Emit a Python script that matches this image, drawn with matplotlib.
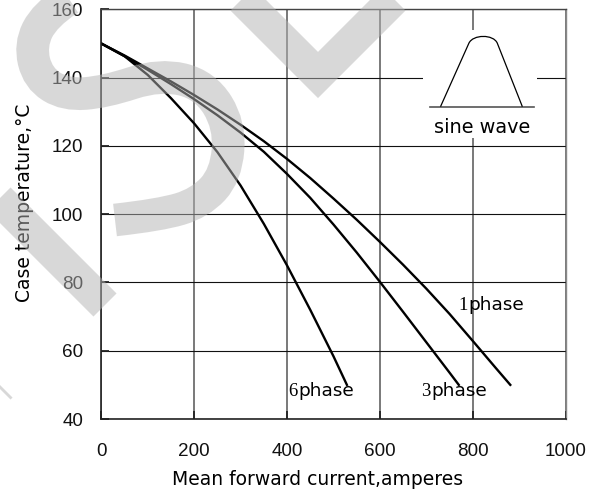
import matplotlib.pyplot as plt
from matplotlib.path import Path
from matplotlib.patches import PathPatch, Rectangle

# Case temperature vs mean forward current
i_1ph = [0, 50, 100, 150, 200, 250, 300, 350, 400, 450, 500, 550, 600, 650, 700, 750, 800, 850, 881]
t_1ph = [150, 146.5, 142.7, 138.9, 134.9, 130.7, 126.2, 121.4, 116.2, 110.6, 104.6, 98.4, 91.9, 85.2, 78.2,
         70.8, 62.9, 54.9, 50]

i_3ph = [0, 50, 100, 150, 200, 250, 300, 350, 400, 450, 500, 550, 600, 650, 700, 750, 770]
t_3ph = [150, 146.3, 142.3, 138.1, 133.7, 129.0, 123.9, 118.3, 111.8, 104.8, 97.0, 88.8, 80.2, 71.4, 62.5,
         53.6, 50]

i_6ph = [0, 50, 100, 150, 200, 250, 300, 350, 400, 450, 500, 529]
t_6ph = [150, 146.3, 140.8, 134.0, 126.6, 118.2, 108.4, 97.2, 85.0, 72.0, 58.4, 50]

curves = [(i_1ph, t_1ph), (i_3ph, t_3ph), (i_6ph, t_6ph)]

# curve labels: number, x, y
label_nums = ["1", "3", "6"]
label_x = [770, 689, 403]
label_y = [72.0, 46.6, 46.6]

x_ticks = [0, 200, 400, 600, 800, 1000]
y_ticks = [40, 60, 80, 100, 120, 140, 160]

fig = plt.figure(figsize=(5.95, 4.93), dpi=100)
ax = fig.add_axes([0.1703, 0.1501, 0.7802, 0.8308])

ax.set_xlim(0, 1000)
ax.set_ylim(40, 160)
ax.set_xticks(x_ticks)
ax.set_yticks(y_ticks)
ax.set_axisbelow(True)
ax.xaxis.grid(True, color='#555555', lw=1.1)
ax.yaxis.grid(True, color='#111111', lw=0.8)

for side, col, lw in [('left', '#222222', 1.2), ('bottom', '#222222', 1.2),
                      ('top', '#444444', 1.0), ('right', '#888888', 1.0)]:
    ax.spines[side].set_color(col)
    ax.spines[side].set_linewidth(lw)

ax.tick_params(direction='in', length=6, width=1.3, color='#222222', labelcolor='#111111')
ax.tick_params(axis='x', pad=17)
ax.tick_params(axis='y', pad=13)
for lab in ax.get_xticklabels() + ax.get_yticklabels():
    lab.set_fontfamily('Liberation Sans')
    lab.set_fontsize(13.6)

for xs, ys in curves:
    ax.plot(xs, ys, color='black', lw=1.7, solid_joinstyle='round', zorder=2)

for num, x, y in zip(label_nums, label_x, label_y):
    ax.text(x, y, num, family='Liberation Serif', fontsize=13.5, ha='left', va='baseline', zorder=3)
    ax.annotate('phase', (x, y), xytext=(7.2, 0), textcoords='offset points',
                family='DejaVu Sans', fontsize=13.3, ha='left', va='baseline', zorder=3)

# sine wave icon
ax.add_patch(Rectangle((694, 122.3), 244, 31.7, fc='white', ec='none', zorder=1.5))
ax.plot([709, 931], [131.5, 131.5], color='#555555', lw=1.2, zorder=2)
hump = Path([(730.6, 131.5), (791.8, 150.1), (800.6, 152.7), (844.6, 152.8), (853, 150.1), (907, 131.5)],
            [Path.MOVETO, Path.LINETO, Path.CURVE4, Path.CURVE4, Path.CURVE4, Path.LINETO])
ax.add_patch(PathPatch(hump, fill=False, ec='black', lw=0.9, zorder=2))
ax.text(820.7, 123.7, 'sine wave', family='DejaVu Sans', fontsize=13.9, ha='center', va='baseline', zorder=3)

fig.text(0.5336, 0.0162, 'Mean forward current,amperes', family='DejaVu Sans', fontsize=13.5,
         ha='center', va='baseline')
fig.text(0.041, 0.588, 'Case temperature,°C', family='DejaVu Sans', fontsize=13.5,
         rotation=90, ha='center', va='center')

# light grey watermark laid over the whole picture (pixel coordinates)
ov = fig.add_axes([0, 0, 1, 1], zorder=10)
ov.set_xlim(0, 595)
ov.set_ylim(493, 0)
ov.axis('off')
ov.patch.set_alpha(0)

wm_col = '#b3b3b3'
wm_alpha = 0.5
wm_lw = 23.5

s_pts = [(90, -15), (45, 15), (30, 45), (38, 78), (65, 95), (105, 92), (160, 74),
         (205, 85), (230, 125), (226, 175), (200, 203), (160, 215), (115, 220)]
verts = [s_pts[0], ((s_pts[0][0] + s_pts[1][0]) / 2, (s_pts[0][1] + s_pts[1][1]) / 2)]
codes = [Path.MOVETO, Path.LINETO]
for k in range(1, len(s_pts) - 1):
    a, b = s_pts[k], s_pts[k + 1]
    end = b if k == len(s_pts) - 2 else ((a[0] + b[0]) / 2, (a[1] + b[1]) / 2)
    verts += [a, end]
    codes += [Path.CURVE3, Path.CURVE3]
s_patch = PathPatch(Path(verts, codes), fill=False, ec=wm_col, lw=wm_lw, alpha=wm_alpha)
s_patch.set_capstyle('butt')
ov.add_patch(s_patch)

ov.plot([233, 318, 403], [-10, 75, -10], color=wm_col, alpha=wm_alpha, lw=wm_lw,
        solid_capstyle='butt', solid_joinstyle='miter')
ov.plot([-30, 105], [170, 305], color=wm_col, alpha=wm_alpha, lw=wm_lw, solid_capstyle='butt')
ov.plot([-40, 1], [427, 386], color=wm_col, alpha=wm_alpha, lw=wm_lw, solid_capstyle='butt')

fig.savefig('out.png', dpi=100)
